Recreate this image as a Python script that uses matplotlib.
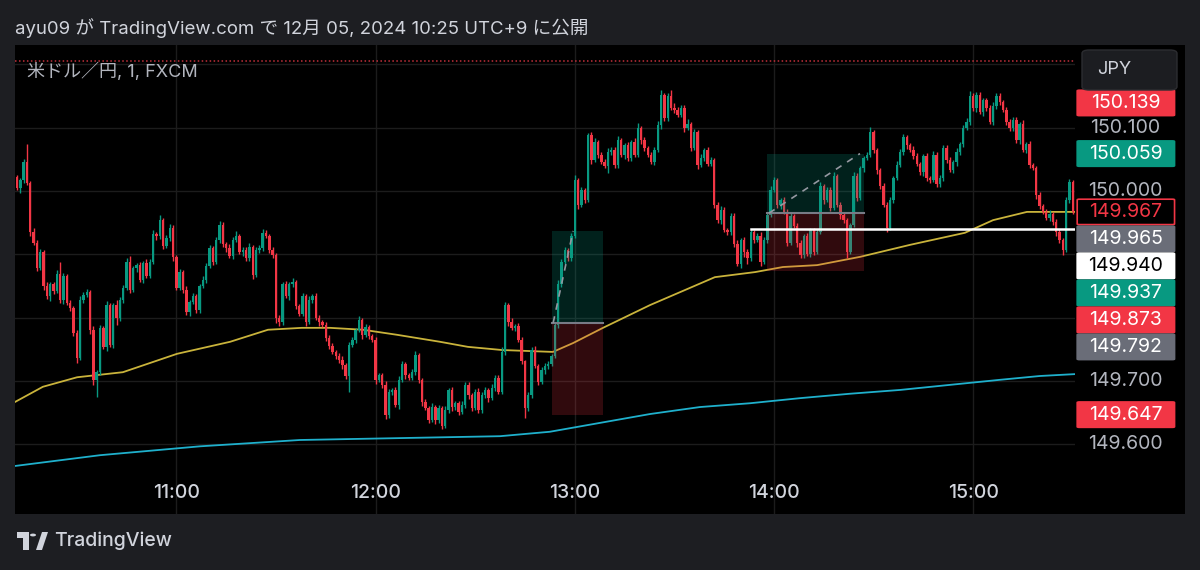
import numpy as np
import matplotlib
matplotlib.use('Agg')
import matplotlib.pyplot as plt
from matplotlib.patches import Rectangle, FancyBboxPatch, Polygon, Circle

plt.rcParams['font.family'] = ['Inter', 'Noto Sans CJK JP', 'DejaVu Sans']

W, H = 1200, 570
UP, DOWN = '#089981', '#f23645'

# USD/JPY 1-minute bars, first bar at 10:12 (UTC+9)
first_open = 150.022
closes = [
    150.005, 150.017, 150.046, 150.013, 149.935, 149.918, 149.878, 149.904, 149.850, 149.834,
    149.853, 149.842, 149.869, 149.828, 149.866, 149.823, 149.815, 149.776, 149.736, 149.828,
    149.836, 149.841, 149.781, 149.702, 149.714, 149.784, 149.754, 149.820, 149.757, 149.820,
    149.800, 149.828, 149.847, 149.888, 149.844, 149.878, 149.883, 149.860, 149.886, 149.866,
    149.888, 149.932, 149.929, 149.954, 149.913, 149.926, 149.942, 149.896, 149.847, 149.872,
    149.844, 149.809, 149.825, 149.834, 149.812, 149.850, 149.860, 149.882, 149.910, 149.888,
    149.923, 149.946, 149.916, 149.910, 149.897, 149.923, 149.929, 149.904, 149.907, 149.894,
    149.912, 149.867, 149.907, 149.910, 149.934, 149.929, 149.907, 149.899, 149.800, 149.793,
    149.853, 149.834, 149.853, 149.856, 149.818, 149.806, 149.834, 149.793, 149.828, 149.834,
    149.800, 149.793, 149.788, 149.768, 149.755, 149.746, 149.740, 149.733, 149.725, 149.708,
    149.757, 149.765, 149.781, 149.796, 149.773, 149.785, 149.771, 149.765, 149.702, 149.709,
    149.694, 149.646, 149.683, 149.686, 149.662, 149.702, 149.727, 149.709, 149.705, 149.714,
    149.741, 149.702, 149.667, 149.657, 149.639, 149.659, 149.639, 149.657, 149.629, 149.654,
    149.686, 149.659, 149.665, 149.651, 149.662, 149.694, 149.678, 149.657, 149.683, 149.654,
    149.678, 149.686, 149.673, 149.689, 149.705, 149.683, 149.746, 149.820, 149.793, 149.784,
    149.787, 149.765, 149.731, 149.657, 149.678, 149.749, 149.724, 149.699, 149.717, 149.724,
    149.727, 149.740, 149.788, 149.853, 149.888, 149.907, 149.894, 149.929, 150.017, 149.978,
    150.002, 149.986, 150.088, 150.049, 150.077, 150.057, 150.046, 150.039, 150.062, 150.065,
    150.041, 150.080, 150.057, 150.072, 150.052, 150.077, 150.057, 150.099, 150.080, 150.068,
    150.057, 150.046, 150.065, 150.104, 150.151, 150.115, 150.150, 150.131, 150.128, 150.120,
    150.131, 150.099, 150.106, 150.068, 150.093, 150.041, 150.052, 150.065, 150.043, 150.049,
    149.978, 149.954, 149.970, 149.938, 149.935, 149.961, 149.916, 149.885, 149.923, 149.904,
    149.894, 149.935, 149.923, 149.929, 149.888, 149.923, 149.962, 150.002, 150.017, 149.978,
    149.986, 149.967, 149.918, 149.961, 149.945, 149.918, 149.899, 149.929, 149.901, 149.938,
    149.904, 149.935, 150.008, 149.986, 150.002, 149.973, 150.024, 149.978, 149.962, 149.954,
    149.904, 149.946, 150.024, 149.989, 150.036, 150.052, 150.057, 150.093, 150.065, 150.033,
    150.008, 149.978, 149.942, 149.986, 150.021, 150.041, 150.062, 150.085, 150.072, 150.065,
    150.055, 150.042, 150.030, 150.055, 150.021, 150.017, 150.057, 150.011, 150.021, 150.068,
    150.049, 150.033, 150.046, 150.062, 150.074, 150.099, 150.109, 150.150, 150.131, 150.151,
    150.124, 150.143, 150.131, 150.109, 150.134, 150.150, 150.141, 150.128, 150.109, 150.099,
    150.112, 150.080, 150.106, 150.065, 150.074, 150.041, 150.036, 149.994, 149.976, 149.967,
    149.957, 149.964, 149.951, 149.935, 149.923, 149.907, 149.986, 150.014, 149.967,
]
# wick lengths beyond the body, in 0.001 yen
upper_wick = [
    4, 3, 5, 28, 3, 6, 4, 5, 3, 6, 4, 3, 6, 19, 4, 3, 5, 3, 4, 6,
    4, 5, 3, 6, 4, 5, 3, 6, 4, 3, 8, 5, 4, 6, 10, 4, 3, 5, 4, 6,
    5, 6, 4, 8, 3, 5, 6, 4, 3, 5, 4, 6, 3, 5, 4, 3, 6, 4, 5, 3,
    4, 6, 5, 3, 6, 4, 8, 3, 5, 4, 6, 3, 5, 4, 6, 5, 3, 4, 3, 5,
    4, 5, 3, 6, 4, 3, 5, 4, 6, 3, 5, 4, 3, 6, 4, 5, 3, 4, 6, 3,
    5, 4, 3, 6, 4, 5, 3, 4, 5, 3, 4, 6, 5, 3, 4, 6, 5, 3, 4, 5,
    6, 4, 3, 5, 4, 6, 3, 5, 4, 6, 3, 5, 4, 3, 6, 4, 5, 3, 4, 6,
    4, 5, 3, 6, 4, 5, 8, 5, 4, 6, 3, 5, 4, 3, 5, 4, 6, 3, 5, 4,
    4, 3, 5, 6, 4, 5, 3, 4, 8, 4, 5, 3, 4, 5, 6, 3, 4, 5, 6, 4,
    5, 6, 4, 3, 5, 4, 6, 8, 4, 5, 3, 4, 5, 6, 8, 4, 5, 10, 8, 4,
    5, 4, 8, 3, 5, 4, 6, 3, 5, 4, 3, 5, 6, 4, 3, 5, 4, 6, 3, 5,
    4, 5, 3, 4, 6, 5, 4, 6, 5, 4, 3, 5, 4, 6, 3, 5, 4, 3, 5, 4,
    4, 5, 6, 3, 4, 5, 6, 3, 4, 5, 3, 4, 6, 5, 4, 3, 5, 8, 4, 3,
    3, 4, 5, 4, 3, 6, 4, 5, 3, 4, 6, 5, 3, 4, 5, 3, 6, 4, 5, 4,
    4, 5, 3, 6, 4, 5, 6, 8, 4, 6, 5, 4, 3, 5, 6, 4, 5, 3, 4, 5,
    4, 5, 3, 6, 4, 5, 3, 4, 5, 3, 4, 6, 3, 4, 5, 3, 4, 5, 4,
]
lower_wick = [
    3, 8, 4, 3, 6, 4, 5, 3, 6, 4, 8, 5, 3, 4, 6, 3, 4, 5, 8, 3,
    5, 4, 6, 8, 27, 5, 4, 6, 3, 5, 12, 5, 4, 3, 5, 4, 6, 3, 5, 4,
    4, 3, 6, 5, 4, 3, 5, 6, 4, 3, 5, 4, 6, 3, 4, 5, 3, 6, 4, 5,
    3, 5, 4, 6, 3, 5, 4, 3, 6, 5, 4, 6, 3, 5, 4, 3, 5, 4, 8, 6,
    5, 3, 6, 4, 5, 3, 4, 6, 3, 5, 4, 6, 3, 5, 4, 3, 5, 4, 6, 5,
    25, 4, 5, 3, 6, 4, 5, 3, 6, 4, 5, 6, 4, 5, 3, 6, 4, 5, 3, 4,
    4, 5, 6, 3, 5, 4, 6, 5, 4, 3, 5, 6, 4, 5, 3, 4, 6, 5, 3, 4,
    5, 4, 6, 3, 5, 4, 3, 5, 6, 4, 5, 3, 4, 15, 5, 4, 3, 5, 4, 6,
    5, 4, 3, 4, 5, 3, 4, 5, 3, 6, 4, 5, 3, 6, 4, 5, 4, 3, 10, 5,
    4, 5, 3, 6, 4, 5, 3, 4, 6, 5, 4, 3, 5, 4, 6, 5, 4, 3, 5, 4,
    4, 6, 3, 5, 4, 6, 3, 5, 4, 3, 5, 4, 6, 3, 5, 4, 5, 3, 6, 8,
    10, 4, 5, 3, 6, 4, 5, 3, 4, 5, 6, 3, 5, 4, 3, 6, 5, 4, 3, 5,
    5, 4, 3, 6, 4, 5, 3, 4, 6, 5, 10, 4, 3, 5, 4, 6, 3, 4, 5, 6,
    5, 4, 6, 3, 5, 4, 3, 5, 6, 4, 5, 3, 4, 6, 5, 4, 3, 5, 4, 6,
    5, 3, 4, 6, 5, 4, 3, 5, 4, 6, 3, 5, 4, 3, 5, 4, 6, 3, 5, 4,
    5, 4, 6, 3, 5, 4, 3, 6, 5, 4, 3, 5, 4, 6, 5, 8, 4, 5, 3,
]
assert len(closes) == len(upper_wick) == len(lower_wick)

# time axis: minutes after 10:12
hour_ticks = [48, 108, 168, 228, 288]
hour_labels = ['11:00', '12:00', '13:00', '14:00', '15:00']

# moving averages (minute, price)
ema_t = [-0.6, 7.8, 18.1, 31.9, 48.2, 64.2, 75.6, 85.8, 94.3, 104.2, 114.5, 127.4, 135.8,
         146.1, 161.4, 167.5, 176.5, 190.7, 210.2, 222.3, 230.7, 241.0, 253.9, 269.0,
         285.5, 294.0, 304.2, 314.2, 318.7]
ema_v = [149.667, 149.691, 149.706, 149.714, 149.743, 149.762, 149.781, 149.784, 149.784,
         149.781, 149.773, 149.762, 149.754, 149.749, 149.746, 149.760, 149.784, 149.820,
         149.864, 149.872, 149.880, 149.883, 149.896, 149.915, 149.934, 149.954, 149.967,
         149.967, 149.967]
slow_t = [-0.6, 25.0, 55.1, 85.2, 115.4, 145.5, 160.5, 175.6, 190.7, 205.7, 220.8, 235.8,
          250.9, 266.0, 281.0, 296.1, 308.1, 318.7]
slow_v = [149.566, 149.583, 149.597, 149.607, 149.610, 149.613, 149.620, 149.634, 149.648,
          149.659, 149.665, 149.673, 149.680, 149.686, 149.694, 149.702, 149.708, 149.711]

# long position tools: start, end, entry, target, stop, path end (minute)
pos_start = [161.0, 226.0]
pos_end = [176.5, 255.0]
pos_entry = [149.792, 149.965]
pos_target = [149.937, 150.059]
pos_stop = [149.647, 149.873]
pos_path_end = [167.5, 253.9]

hline_price = 149.940
hline_start = 221
alert_price = 150.205
extra_label = 150.139

grid_prices = [149.6, 149.7, 149.8, 149.9, 150.0, 150.1, 150.2]

y_top, y_bot = 150.2304, 149.4902
x_left, x_right = -0.6, 318.67


def fx(px):
    return px / W


def fy(py):
    return 1 - py / H


fig = plt.figure(figsize=(W / 100, H / 100), dpi=100, facecolor='#1d1e22')

ax = fig.add_axes([fx(15), fy(514), fx(1060), (514 - 45) / H])
ax.set_facecolor('black')
ax.set_xlim(x_left, x_right)
ax.set_ylim(y_bot, y_top)
for s in ax.spines.values():
    s.set_visible(False)
ax.set_xticks([])
ax.set_yticks([])

for p in grid_prices:
    ax.axhline(p, color='#1c1c1c', lw=1, zorder=0)
for t in hour_ticks:
    ax.axvline(t, color='#1c1c1c', lw=1, zorder=0)

ax.axhline(alert_price, color='#c2303b', lw=1.1, ls=(0, (1, 1.6)), zorder=1)

# candles
c = np.array(closes)
o = np.array([first_open] + closes[:-1])
t = np.arange(len(c))
top = np.maximum(o, c)
bot = np.minimum(o, c)
hi = top + np.array(upper_wick) * 0.001
lo = bot - np.array(lower_wick) * 0.001
col = np.where(c >= o, UP, DOWN)
ax.vlines(t, lo, hi, colors=col, lw=1, zorder=3)
ax.bar(t, np.maximum(top - bot, 0.0009), bottom=bot, width=0.72, color=col, lw=0, zorder=4)

ax.plot(ema_t, ema_v, color='#c9b33b', lw=1.3, zorder=2)
ax.plot(slow_t, slow_v, color='#1fb0cc', lw=1.3, zorder=2)

# position boxes
for s, e, en, tg, sl, pe in zip(pos_start, pos_end, pos_entry, pos_target, pos_stop, pos_path_end):
    ax.add_patch(Rectangle((s, en), e - s, tg - en, facecolor='#089981', alpha=0.22, lw=0, zorder=5))
    ax.add_patch(Rectangle((s, sl), e - s, en - sl, facecolor='#f23645', alpha=0.2, lw=0, zorder=5))
    ax.plot([s, e], [en, en], color='#787b86', lw=1.5, zorder=6)
    ax.plot([s + 0.5, pe], [en, tg], color='#9598a1', lw=1.2, ls=(0, (4, 4)), zorder=6)

ax.plot([hline_start, x_right], [hline_price, hline_price], color='white', lw=1.8, zorder=7)

ax.text(12 / 1060, 1 - (72 - 45) / 469, '米ドル／円, 1, FXCM',
        transform=ax.transAxes, color='#b2b5be', fontsize=13, va='center', ha='left', zorder=8)

for tk, lb in zip(hour_ticks, hour_labels):
    ax.text(tk, 1 - (493 - 45) / 469, lb, transform=ax.get_xaxis_transform(), color='#d1d4dc',
            fontsize=14, ha='center', va='center', fontweight='medium')

# price scale
pax = fig.add_axes([fx(1075), fy(514), fx(110), (514 - 45) / H])
pax.set_facecolor('black')
pax.set_xlim(0, 1)
pax.set_ylim(y_bot, y_top)
for s in pax.spines.values():
    s.set_visible(False)
pax.set_xticks([])
pax.set_yticks([])

label_h = 27 / 633.6
last_price = closes[-1]
labels = [
    (extra_label, DOWN, 'white', None),
    (pos_target[1], UP, 'white', None),
    (last_price, 'black', DOWN, DOWN),
    (pos_entry[1], '#6a6d78', 'white', None),
    (hline_price, 'white', 'black', None),
    (pos_target[0], UP, 'white', None),
    (pos_stop[1], DOWN, 'white', None),
    (pos_entry[0], '#6a6d78', 'white', None),
    (pos_stop[0], DOWN, 'white', None),
]
# stack labels away from the last price so they do not overlap
below = sorted([l for l in labels if l[0] < last_price], key=lambda l: -l[0])
above = sorted([l for l in labels if l[0] > last_price], key=lambda l: l[0])
placed = [(last_price, labels[2])]
prev = last_price
for l in below:
    y = min(l[0], prev - label_h)
    placed.append((y, l))
    prev = y
prev = last_price
for l in above:
    y = max(l[0], prev + label_h)
    placed.append((y, l))
    prev = y

# plain scale prices, skipping those hidden by labels or the currency button
button_bottom = y_top - (90 - 45) / 633.6
for p in grid_prices:
    if p > button_bottom or any(abs(p - y) < label_h * 0.6 for y, _ in placed):
        continue
    pax.text(0.46, p, f'{p:.3f}', color='#b2b5be', fontsize=14, ha='center', va='center', zorder=1)

for y, (price, bg, fg, edge) in placed:
    pax.add_patch(FancyBboxPatch((0.02, y - label_h * 0.47), 0.885, label_h * 0.94,
                                 boxstyle='round,pad=0,rounding_size=0.02', facecolor=bg,
                                 edgecolor=edge if edge else bg, lw=1.2, zorder=3,
                                 mutation_aspect=0.05))
    pax.text(0.46, y, f'{price:.3f}', color=fg, fontsize=14, ha='center', va='center', zorder=4)

# JPY button
fig.patches.append(FancyBboxPatch((fx(1082), fy(90)), fx(95), 40 / H,
                                  boxstyle='round,pad=0,rounding_size=0.006',
                                  facecolor='#1c1d21', edgecolor='#2c2d31', lw=1,
                                  transform=fig.transFigure, zorder=10))
fig.text(fx(1114), fy(70), 'JPY', color='#d1d4dc', fontsize=13, ha='center', va='center', zorder=11)

# header
fig.text(fx(15), fy(28), 'ayu09 が TradingView.com で 12月 05, 2024 10:25 UTC+9 に公開',
         color='#d1d4dc', fontsize=13.4, ha='left', va='center')

# footer logo
fig.patches.append(Rectangle((fx(17), fy(538)), fx(12), 6 / H, facecolor='#d1d4dc',
                             transform=fig.transFigure))
fig.patches.append(Rectangle((fx(23), fy(550)), fx(6), 18 / H, facecolor='#d1d4dc',
                             transform=fig.transFigure))
fig.patches.append(Circle((fx(33), fy(535)), 3 / W, facecolor='#d1d4dc',
                          transform=fig.transFigure))
fig.patches.append(Polygon([(fx(36), fy(550)), (fx(42), fy(532)), (fx(48), fy(532)), (fx(42), fy(550))],
                           closed=True, facecolor='#d1d4dc', transform=fig.transFigure))
fig.text(fx(54), fy(541), 'TradingView', color='#d1d4dc', fontsize=14, ha='left', va='center',
         fontweight='medium')

fig.savefig('out.png', dpi=100, facecolor=fig.get_facecolor())
